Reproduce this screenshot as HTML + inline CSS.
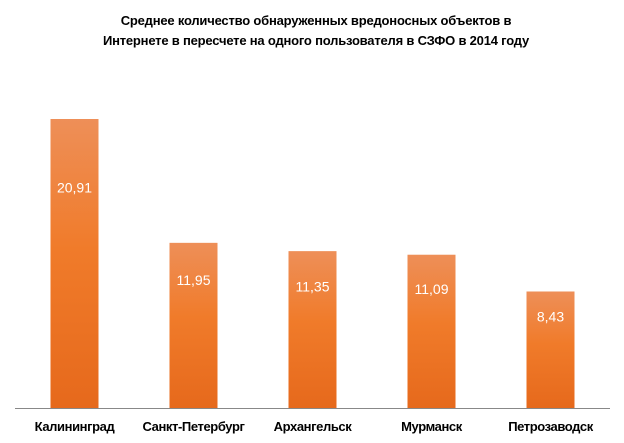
<!DOCTYPE html>
<html><head><meta charset="utf-8"><style>
body{margin:0;background:#fff;}
svg{display:block;font-family:"Liberation Sans","DejaVu Sans",sans-serif;}
</style></head><body>
<svg id="chart" width="624" height="443">
<defs><linearGradient id="g" x1="0" y1="0" x2="0" y2="1">
<stop offset="0" stop-color="#ee8f58"/><stop offset="0.45" stop-color="#f07b2a"/><stop offset="1" stop-color="#e6691c"/></linearGradient></defs>
<text x="316" y="25" text-anchor="middle" font-size="13" font-weight="bold" letter-spacing="-0.2">Среднее количество обнаруженных вредоносных объектов в</text>
<text x="316" y="45" text-anchor="middle" font-size="13" font-weight="bold" letter-spacing="-0.2">Интернете в пересчете на одного пользователя в СЗФО в 2014 году</text>
<g id="bars"></g>
<line x1="15" y1="408.5" x2="610" y2="408.5" stroke="#888" stroke-width="1"/>
<g id="labels"></g>
</svg>
<script>
const categories = ["Калининград","Санкт-Петербург","Архангельск","Мурманск","Петрозаводск"];
const values = [20.91, 11.95, 11.35, 11.09, 8.43];
const valueLabels = ["20,91","11,95","11,35","11,09","8,43"];
const ns="http://www.w3.org/2000/svg";
const x0=15, x1=610, base=408, pxPerUnit=289/20.91, bw=48;
const step=(x1-x0)/categories.length;
const xc=i=>x0+step*(i+0.5);
const y=v=>base-v*pxPerUnit;
const bars=document.getElementById('bars'), labels=document.getElementById('labels');
categories.forEach((c,i)=>{
  const top=y(values[i]);
  const r=document.createElementNS(ns,'rect');
  
  
  r.setAttribute('x',xc(i)-bw/2);r.setAttribute('y',top);
  r.setAttribute('width',bw);r.setAttribute('height',base-top);
  r.setAttribute('fill','url(#g)');
  bars.appendChild(r);
  const t=document.createElementNS(ns,'text');
  
  
  t.setAttribute('x',xc(i));t.setAttribute('y',top+(base-top)*0.25+1);
  t.setAttribute('text-anchor','middle');t.setAttribute('font-size','14');t.setAttribute('fill','#fff');
  t.textContent=valueLabels[i];
  labels.appendChild(t);
  const l=document.createElementNS(ns,'text');
  
  
  l.setAttribute('x',xc(i));l.setAttribute('y',431);
  l.setAttribute('text-anchor','middle');l.setAttribute('font-size','13');l.setAttribute('font-weight','bold');
  l.setAttribute('letter-spacing','-0.4');
  l.textContent=c;
  labels.appendChild(l);
});
</script>
</body></html>
